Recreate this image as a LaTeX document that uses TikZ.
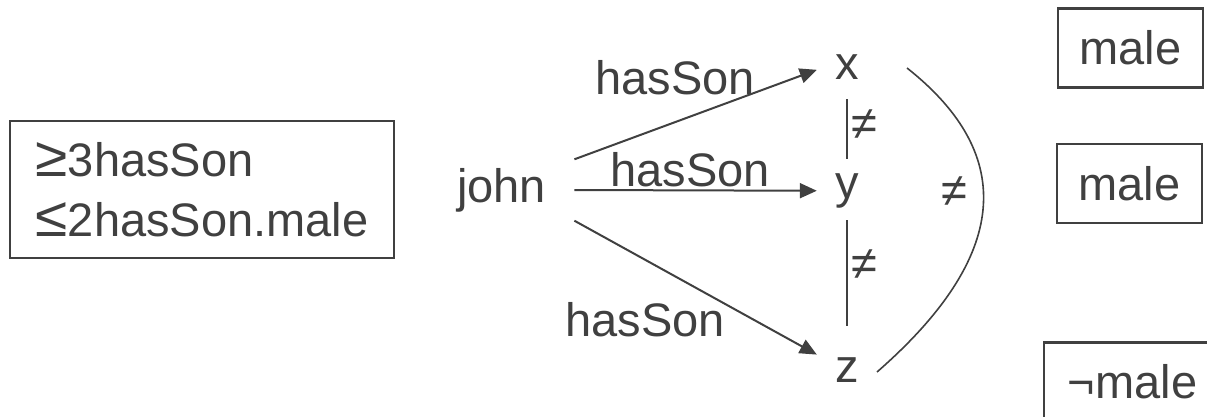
\documentclass[tikz,border=0pt]{standalone}
\usepackage{fontspec}
\setmainfont{Liberation Sans}
\usetikzlibrary{arrows.meta}
\definecolor{ink}{RGB}{64,64,64}
% relation signs drawn a little larger than the text font's own
\newcommand{\atleast}{\scalebox{1.25}[1.2]{≥}}
\newcommand{\atmost}{\scalebox{1.25}[1.2]{≤}}
\begin{document}
\begin{tikzpicture}[x=1pt,y=-1pt,
  lbl/.style={font=\fontsize{47}{60}\selectfont, text=ink},
  framebox/.style={lbl, draw=ink, line width=2.5pt},
  var/.style={lbl, inner sep=0pt, minimum width=60pt},
  rel/.style={draw=ink, line width=2pt, -{Triangle[length=17pt,width=15pt]}},
  neq/.style={lbl, inner sep=0pt},
  link/.style={draw=ink, line width=2pt}]
\useasboundingbox (0,0) rectangle (1207,416);
\clip (0,0) rectangle (1207,416);

% number restrictions on john
\node[framebox, minimum width=384pt, minimum height=137pt, align=left] (cons) at (202,189.5)
  {\atleast3hasSon\\\atmost2hasSon.male};

% individuals
\node[lbl, minimum width=145pt, minimum height=61pt, inner sep=0pt] (john) at (501.7,190) {john};
\node[var] (x) at (847,66.8) {x};
\node[var] (y) at (847,190.75) {y};
\node[var, minimum height=30pt] (z) at (847,369.8) {z};

% hasSon role edges
\draw[rel] (john.north east) -- ([yshift=-3pt]x.west)
  node[lbl, pos=.416, yshift=44pt] (l1) {hasSon};
\draw[rel] (john.east) -- (y.west)
  node[lbl, pos=.477, yshift=20.5pt] (l2) {hasSon};
\draw[rel] (john.south east) -- (z.north west)
  node[lbl, pos=.292, yshift=-60pt] (l3) {hasSon};

% inequality links
\draw[link, shorten <=20pt, shorten >=14pt] (x.south) -- (y.north)
  node[neq, pos=.486, anchor=west, xshift=3pt] (n1) {≠};
\draw[link, shorten <=12pt, shorten >=28.8pt] (y.south) -- (z.north)
  node[neq, pos=.388, anchor=west, xshift=3pt] (n2) {≠};
\coordinate (c0) at (907,68);
\coordinate (c1) at (877,372);
\draw[link, line width=1.6pt] (c0) .. controls (1018.3,156) and (1008.3,257.3) .. (c1)
  node[neq, pos=.44, anchor=east, xshift=-15.5pt] (n3) {≠};

% concept labels of the sons
\node[framebox, minimum width=145pt, minimum height=79pt] (m1) at (1130.5,47.8) {male};
\node[framebox, minimum width=145pt, minimum height=79pt] (m2) at (1129.5,183.7) {male};
\node[framebox, minimum height=79pt, inner xsep=24pt, anchor=north west] (m3) at (1042.7,341) {¬male};
\end{tikzpicture}
\end{document}
